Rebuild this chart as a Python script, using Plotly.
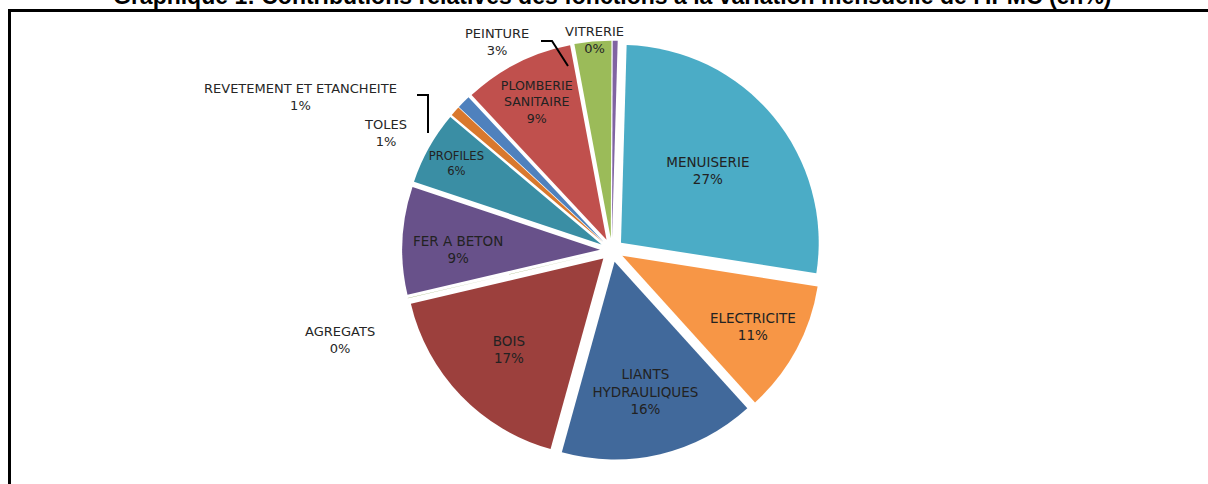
import plotly.graph_objects as go

# Data (Excel series order, drawn clockwise)
labels = ["REVETEMENT ET ETANCHEITE", "PLOMBERIE<br>SANITAIRE", "PEINTURE", "VITRERIE",
          "MENUISERIE", "ELECTRICITE", "LIANTS<br>HYDRAULIQUES", "BOIS", "AGREGATS",
          "FER A BETON", "PROFILES", "TOLES"]
values = [1.1, 9.0, 3.0, 0.4, 27.0, 10.8, 16.0, 17.0, 0.02, 8.8, 6.0, 0.8]
colors = ["#4F81BD", "#C0504D", "#9BBB59", "#8064A2", "#4BACC6", "#F79646",
          "#41699B", "#9C403D", "#7D9B48", "#68518A", "#3A8EA4", "#D9782D"]
title = "Graphique 1: Contributions relatives des fonctions à la variation mensuelle de l'IPMC (en%)"

total = sum(values)
pct = [f"{round(v / total * 100):.0f}%" for v in values]
inside = [v / total >= 0.05 for v in values]

W, H = 1208, 484
FONT = "DejaVu Sans"

fig = go.Figure()
fig.add_trace(go.Pie(
    labels=labels,
    values=values,
    sort=False,
    direction="clockwise",
    rotation=-47,
    pull=[0.06] * len(values),
    marker=dict(colors=colors, line=dict(width=0)),
    text=[f"{l}<br>{p}" if ins else "" for l, p, ins in zip(labels, pct, inside)],
    textinfo="text",
    textposition=["inside" if ins else "none" for ins in inside],
    insidetextorientation="horizontal",
    insidetextfont=dict(family=FONT, size=13.5, color="#222222"),
    hoverinfo="label+percent",
    domain=dict(x=[0.333, 0.680], y=[0.049, 0.917]),
    showlegend=False,
))

def px(x):
    return x / W

def py(y):
    return 1 - y / H

# outside labels for the small slices
outside_pos = {
    "REVETEMENT ET ETANCHEITE": (300, 97),
    "TOLES": (385, 133),
    "PEINTURE": (497, 42),
    "VITRERIE": (594, 40),
    "AGREGATS": (340, 340),
}
for l, p in zip(labels, pct):
    if l in outside_pos:
        x, y = outside_pos[l]
        fig.add_annotation(x=px(x), y=py(y), xref="paper", yref="paper",
                           text=f"{l}<br>{p}", showarrow=False,
                           font=dict(family=FONT, size=13, color="#262626"),
                           xanchor="center", yanchor="middle", align="center")

shapes = [
    # leader lines
    dict(type="path", path=f"M {px(541)} {py(41)} L {px(552)} {py(41)} L {px(568)} {py(66)}"),
    dict(type="path", path=f"M {px(417)} {py(95)} L {px(428)} {py(95)} L {px(428)} {py(133)}"),
]
for s in shapes:
    s.update(xref="paper", yref="paper", line=dict(color="black", width=2))
fig.update_layout(shapes=shapes)

# chart frame
fig.add_shape(type="line", xref="paper", yref="paper", x0=px(8), x1=1.0, y0=py(10.5), y1=py(10.5),
              line=dict(color="black", width=3))
fig.add_shape(type="line", xref="paper", yref="paper", x0=px(9.5), x1=px(9.5), y0=py(9), y1=0,
              line=dict(color="black", width=3))

# title (partly cut by the top edge, as in the reference)
fig.add_annotation(x=px(612), y=py(11), xref="paper", yref="paper", text=f"<b>{title}</b>",
                   showarrow=False, xanchor="center", yanchor="bottom",
                   font=dict(family="Liberation Sans", size=23, color="black"))

fig.update_layout(width=W, height=H, margin=dict(l=0, r=0, t=0, b=0),
                  paper_bgcolor="white", plot_bgcolor="white")

fig.write_html("out.html", config={"displayModeBar": False},
               post_script="document.body.style.margin='0';document.body.style.overflow='hidden';")
